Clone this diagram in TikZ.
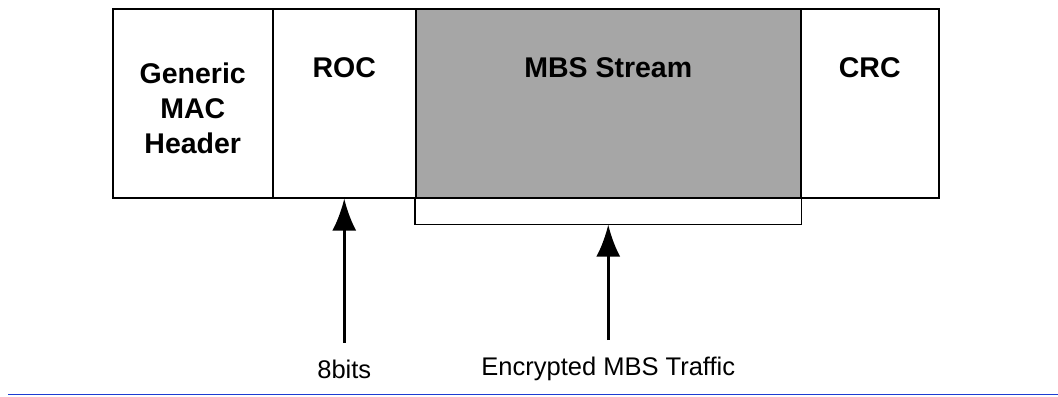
\documentclass[tikz,border=0pt]{standalone}
\usepackage{fontspec}
\setmainfont{Liberation Sans}
\usetikzlibrary{arrows.meta}
\definecolor{fieldgray}{HTML}{A6A6A6}
\definecolor{ruleblue}{HTML}{1E3CD2}
\begin{document}
\begin{tikzpicture}[x=0.5pt,y=-0.5pt,
  field/.style={draw,line width=0.75pt,minimum height=94.5pt,inner sep=0pt,anchor=north west},
  title/.style={font=\fontsize{14.25}{17.5}\selectfont\bfseries,align=center},
  note/.style={font=\fontsize{12.75}{15}\selectfont},
  up/.style={line width=1.5pt,-{Latex[length=16pt,width=12pt]}}]
\useasboundingbox (0,0) rectangle (1058,396);
%\draw [help lines, color=lightgray] (0,0) grid[step=50] (1058,396);
\node [field,minimum width=80pt] (gmh) at (112,8) {};
\node [field,minimum width=71.5pt] (roc) at (272,8) {};
\node [field,minimum width=192.5pt,fill=fieldgray] (mbs) at (415,8) {};
\node [field,minimum width=69pt] (crc) at (800,8) {};
\node [title] (gmhtext) at (gmh.center |- 0,108) {Generic\\MAC\\Header};
\node [title] (roctext) at (roc.center |- 0,67.5) {ROC};
\node [title] (mbstext) at (mbs.center |- 0,67.5) {MBS Stream};
\node [title] (crctext) at (crc.center |- 0,67.5) {CRC};
\draw [line width=0.75pt] (mbs.south west) -- ++(0,26) coordinate (brl) -| (mbs.south east);
\node [note] (bits) at (roc.center |- 0,369) {8bits};
\node [note] (traffic) at (mbs.center |- 0,369) {Encrypted MBS Traffic};
\draw [up] ([yshift=5pt]bits.north) -- (roc.south);
\draw [up] ([yshift=5pt]traffic.north) -- (mbs.south |- brl);
\draw [ruleblue,line width=0.75pt] (8,394.5) -- (1058,394.5);
\end{tikzpicture}
\end{document}
